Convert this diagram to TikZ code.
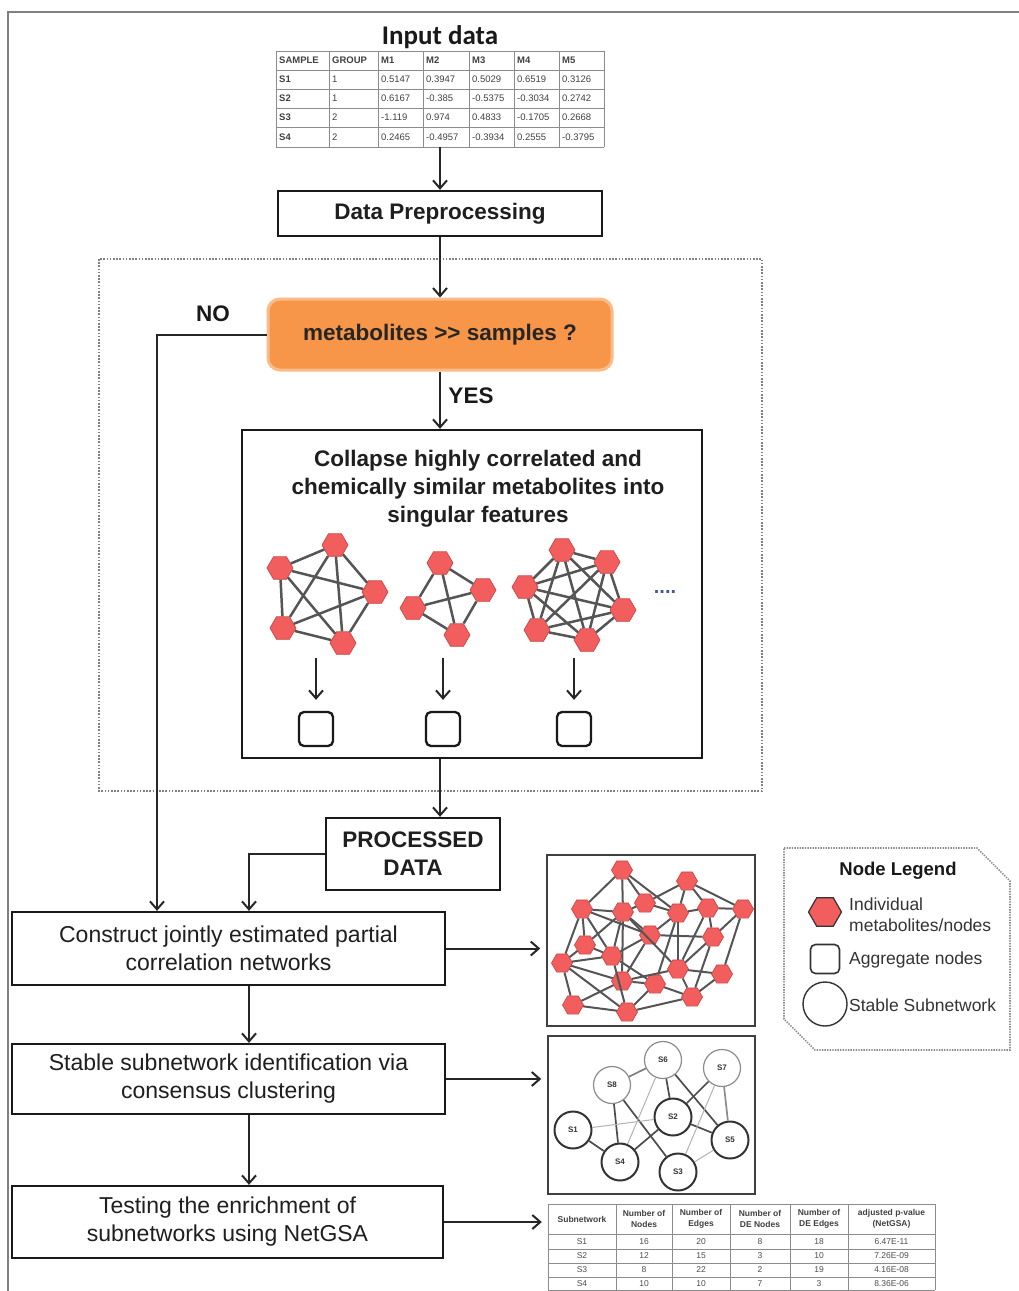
\documentclass[tikz,border=0pt]{standalone}
\usepackage{fontspec}
\setmainfont{Liberation Sans}
\newfontfamily\arialf{Liberation Sans}
\newfontfamily\carlf{Carlito}
\usetikzlibrary{arrows.meta,shapes.geometric,calc}
\definecolor{hexred}{RGB}{242,94,94}
\definecolor{hexedge}{RGB}{205,70,70}
\definecolor{orng}{RGB}{247,150,72}
\definecolor{edgegray}{RGB}{85,85,85}
\definecolor{dotblue}{RGB}{70,90,150}
\newcommand\fbold{\arialf\bfseries\fontsize{22.5}{28}\selectfont}
\newcommand\freg{\arialf\fontsize{23}{28}\selectfont}
\newcommand\fleg{\arialf\fontsize{17.5}{21}\selectfont}
\newcommand\ftab{\arialf\fontsize{9.5}{10}\selectfont}
\newcommand\ftabb{\arialf\fontsize{8.5}{11}\selectfont}
\tikzset{
  flowbox/.style={draw=black!90, line width=2.3pt, fill=white, inner sep=0pt, align=center, text=black!88},
  arr/.style={draw=black!85, line width=2pt, -{Straight Barb[length=8pt,width=14pt]}},
  hexn/.style={regular polygon, regular polygon sides=6, minimum size=26pt, inner sep=0pt, fill=hexred, draw=hexedge, line width=0.7pt},
  hexs/.style={hexn, minimum size=21pt},
  hedge/.style={draw=edgegray, line width=2.5pt},
  agg/.style={draw=black!90, line width=2.3pt, rounded corners=5pt, minimum width=34pt, minimum height=34pt, inner sep=0pt, fill=white},
  subn/.style={circle, draw=black!80, line width=2pt, minimum size=37pt, inner sep=0pt, fill=white, font=\arialf\bfseries\fontsize{8}{9}\selectfont, text=black!80},
  subl/.style={subn, draw=black!45, line width=1.2pt},
  sedge/.style={draw=black!70, line width=1.7pt},
  sedgel/.style={draw=black!30, line width=1pt},
  tabline/.style={draw=black!45, line width=0.9pt},
}
\begin{document}
\begin{tikzpicture}[x=1pt,y=-1pt]
\useasboundingbox (0,0) rectangle (1019,1291);
% outer frame
\draw[black!50, line width=1.5pt] (8,1291) -- (8,12) -- (1019,12);

% ---------- input table
\node[font=\carlf\bfseries\fontsize{27}{30}\selectfont, text=black!90] (intitle) at (440,37) {Input data};
\def\ixs{{276,329,378,423,469,514,559,604}}
\def\iys{{51,70,89,108,127,147}}
\foreach \x in {276,329,378,423,469,514,559,604} \draw[tabline] (\x,51) -- (\x,147);
\foreach \y in {51,70,89,108,127,147} \draw[tabline] (276,\y) -- (604,\y);
\foreach \rowlist [count=\r] in {{SAMPLE,GROUP,M1,M2,M3,M4,M5},{S1,1,0.5147,0.3947,0.5029,0.6519,0.3126},{S2,1,0.6167,-0.385,-0.5375,-0.3034,0.2742},{S3,2,-1.119,0.974,0.4833,-0.1705,0.2668},{S4,2,0.2465,-0.4957,-0.3934,0.2555,-0.3795}} {
  \foreach \cell [count=\c] in \rowlist {
    \pgfmathsetmacro\xl{\ixs[\c-1]}
    \pgfmathsetmacro\yt{\iys[\r-1]}
    \pgfmathsetmacro\yb{\iys[\r]}
    \ifnum\r=1 \def\ff{\bfseries}\else\ifnum\c=1 \def\ff{\bfseries}\else\def\ff{}\fi\fi
    \node[anchor=west, inner sep=0pt, font=\ftab, text=black!75] (in-\r-\c) at (\xl+3,{(\yt+\yb)/2}) {\ff\cell};
  }
}
\node[minimum width=328pt, minimum height=96pt, inner sep=0pt] (intable) at (440,99) {};

% ---------- flow boxes
\node[flowbox, minimum width=324pt, minimum height=45pt, font=\fbold] (dp) at (440,213.5) {Data Preprocessing};
\draw[black!50, line width=2.2pt, dash pattern=on 1.6pt off 1.6pt] (99,259) rectangle (762,791);
\node[draw=orng!65!white, line width=3pt, fill=orng, rounded corners=12pt, minimum width=344pt, minimum height=71pt, font=\fbold, text=black!85] (q) at (440,334.5) {metabolites >> samples ?};
\node[flowbox, minimum width=460pt, minimum height=328pt] (col) at (472,594) {};
\node[align=center, font=\fbold, text=black!88] (coltext) at (478,489) {Collapse highly correlated and\\chemically similar metabolites into\\singular features};
\node[flowbox, minimum width=174pt, minimum height=72pt, font=\fbold] (pd) at (413,854) {PROCESSED\\DATA};
\node[flowbox, minimum width=433pt, minimum height=73pt, font=\freg] (cj) at (228.5,948.5) {Construct jointly estimated partial\\correlation networks};
\node[flowbox, minimum width=433pt, minimum height=70pt, font=\freg] (sn) at (228.5,1079) {Stable subnetwork identification via\\consensus clustering};
\node[flowbox, minimum width=431pt, minimum height=72pt, font=\freg] (te) at (227.5,1222) {Testing the enrichment of\\subnetworks using NetGSA};

% labels
\node[font=\fbold, text=black!90] (nolab) at (213,314) {NO};
\node[font=\fbold, text=black!90] (yeslab) at (471,396) {YES};

% connectors
\coordinate (noX) at (157,334.5);
\coordinate (pdX) at (249,854);
\draw[arr] (intable.south) -- (dp.north);
\draw[arr] (dp.south) -- (q.north);
\draw[arr] (q.south) -- (q.south |- col.north);
\draw[arr] (q.west) -- (noX) -- (noX |- cj.north);
\draw[arr] (q.south |- col.south) -- (q.south |- pd.north);
\draw[arr] (pd.west) -- (pdX) -- (pdX |- cj.north);
\draw[arr] (pdX |- cj.south) -- (pdX |- sn.north);
\draw[arr] (pdX |- sn.south) -- (pdX |- te.north);

% ---------- clusters in collapse box
\foreach \n/\x/\y in {a/335/545, b/280/568, c/375/592, d/283/628, e/343/643} \node[hexn] (k1\n) at (\x,\y) {};
\foreach \s/\t in {a/b,a/c,a/d,a/e,b/c,b/d,b/e,c/d,c/e,d/e} \draw[hedge] (k1\s) -- (k1\t);
\foreach \n/\x/\y in {a/440/563, b/483/590, c/413/608, d/457/635} \node[hexn] (k2\n) at (\x,\y) {};
\foreach \s/\t in {a/b,a/c,a/d,b/c,b/d,c/d} \draw[hedge] (k2\s) -- (k2\t);
\foreach \n/\x/\y in {a/562/550, b/607/562, c/525/587, d/623/610, e/537/630, f/587/640} \node[hexn] (k3\n) at (\x,\y) {};
\foreach \s/\t in {a/b,a/c,a/d,a/e,a/f,b/c,b/d,b/e,b/f,c/d,c/e,c/f,d/e,d/f,e/f} \draw[hedge] (k3\s) -- (k3\t);
\node[font=\arialf\bfseries\fontsize{20}{20}\selectfont, text=dotblue] (dots) at (665,592) {....};
\foreach \i/\x in {1/316, 2/443, 3/574} {
  \node[agg] (ag\i) at (\x,729) {};
  \coordinate (ag\i top) at (\x,658);
  \draw[arr, shorten >=11pt] (ag\i top) -- (ag\i.north);
}

% ---------- network box
\node[draw=black!75, line width=1.5pt, minimum width=208pt, minimum height=171pt, inner sep=0pt] (netbox) at (651,940.5) {};
\foreach \n/\x/\y in {1/622/870, 2/687/881, 3/582/909, 4/623/912, 5/645/903, 6/678/913, 7/708/908, 8/743/909, 9/650/935, 10/713/937, 11/585/945, 12/612/956, 13/562/963, 14/678/969, 15/722/974, 16/622/981, 17/655/984, 18/692/997, 19/573/1005, 20/627/1012}
  \node[hexs] (m\n) at (\x,\y) {};
\foreach \s/\t in {1/3,1/4,1/5,1/6,2/5,2/7,2/8,2/6,3/4,3/11,3/13,3/9,3/12,4/5,4/9,4/11,4/12,4/16,4/14,5/6,6/7,6/9,6/14,6/17,7/8,7/10,7/14,8/10,8/15,9/10,9/12,9/16,10/14,10/18,11/13,11/12,12/13,12/17,12/20,13/16,13/19,13/20,14/15,14/18,14/16,15/18,16/19,16/17,17/20,17/18,18/20,19/20}
  \draw[hedge, line width=2pt] (m\s) -- (m\t);

% ---------- subnetwork box
\node[draw=black!75, line width=1.5pt, minimum width=207pt, minimum height=158pt, inner sep=0pt] (subbox) at (651.5,1115) {};
\node[subl] (s6) at (663,1060) {S6};
\node[subl] (s7) at (722,1068) {S7};
\node[subl] (s8) at (612,1085) {S8};
\node[subn] (s2) at (673,1117) {S2};
\node[subn] (s1) at (573,1130) {S1};
\node[subn] (s5) at (730,1140) {S5};
\node[subn] (s4) at (620,1162) {S4};
\node[subn] (s3) at (678,1172) {S3};
\foreach \s/\t in {s6/s2,s6/s5,s8/s4,s8/s3,s1/s4,s4/s2,s7/s2,s2/s5} \draw[sedge] (\s) -- (\t);
\draw[sedge, draw=black!50] (s8) -- (s6);
\draw[sedge, draw=black!45] (s7) -- (s5);
\foreach \s/\t in {s6/s4,s7/s3,s3/s5,s1/s2} \draw[sedgel] (\s) -- (\t);

% ---------- result table
\def\rxs{{548,616,672,730,790,848,935}}
\def\rys{{1204,1234,1249,1263,1277,1290}}
\foreach \x in {548,616,672,730,790,848,935} \draw[tabline] (\x,1204) -- (\x,1290);
\foreach \y in {1204,1234,1249,1263,1277,1290} \draw[tabline] (548,\y) -- (935,\y);
\foreach \cell [count=\c] in {Subnetwork,Number of\\Nodes,Number of\\Edges,Number of\\DE Nodes,Number of\\DE Edges,adjusted p-value\\(NetGSA)} {
  \pgfmathsetmacro\xl{\rxs[\c-1]}
  \pgfmathsetmacro\xr{\rxs[\c]}
  \node[align=center, inner sep=0pt, font=\ftabb\bfseries, text=black!75] (rh-\c) at ({(\xl+\xr)/2},1219) {\cell};
}
\foreach \rowlist [count=\r] in {{S1,16,20,8,18,6.47E-11},{S2,12,15,3,10,7.26E-09},{S3,8,22,2,19,4.16E-08},{S4,10,10,7,3,8.36E-06}} {
  \foreach \cell [count=\c] in \rowlist {
    \pgfmathsetmacro\xl{\rxs[\c-1]}
    \pgfmathsetmacro\xr{\rxs[\c]}
    \pgfmathsetmacro\yt{\rys[\r]}
    \pgfmathsetmacro\yb{\rys[\r+1]}
    \node[inner sep=0pt, font=\ftabb, text=black!70] (rd-\r-\c) at ({(\xl+\xr)/2},{(\yt+\yb)/2}) {\cell};
  }
}
\node[minimum width=387pt, minimum height=86pt, inner sep=0pt] (rtab) at (741.5,1247) {};

\draw[arr, shorten >=6pt] (cj.east) -- (cj.east -| netbox.west);
\draw[arr, shorten >=6pt] (sn.east) -- (sn.east -| subbox.west);
\draw[arr, shorten >=6pt] (te.east) -- (te.east -| rtab.west);

% ---------- legend
\draw[black!45, line width=1.6pt, dash pattern=on 1.4pt off 1.2pt] (784,848) -- (977,848) -- (1010,881) -- (1010,1050) -- (815,1050) -- (784,1019) -- cycle;
\node[font=\arialf\bfseries\fontsize{18.5}{22}\selectfont, text=black!90] (legt) at (898,871) {Node Legend};
\node[hexn, minimum size=33pt, draw=black!80, line width=1.2pt] (lhex) at (825,912) {};
\node[anchor=west, align=left, font=\fleg, text=black!80, inner sep=0pt] (lhext) at (849,915) {Individual\\metabolites/nodes};
\node[agg, minimum width=29pt, minimum height=29pt, line width=1.6pt, draw=black!80] (lagg) at (825,959) {};
\node[anchor=west, font=\fleg, text=black!80, inner sep=0pt] (laggt) at (849,960) {Aggregate nodes};
\node[circle, draw=black!80, line width=1.4pt, minimum size=44pt, inner sep=0pt] (lcirc) at (825,1004) {};
\node[anchor=west, font=\fleg, text=black!80, inner sep=0pt] (lcirct) at (849,1005) {Stable Subnetwork};
\end{tikzpicture}
\end{document}
